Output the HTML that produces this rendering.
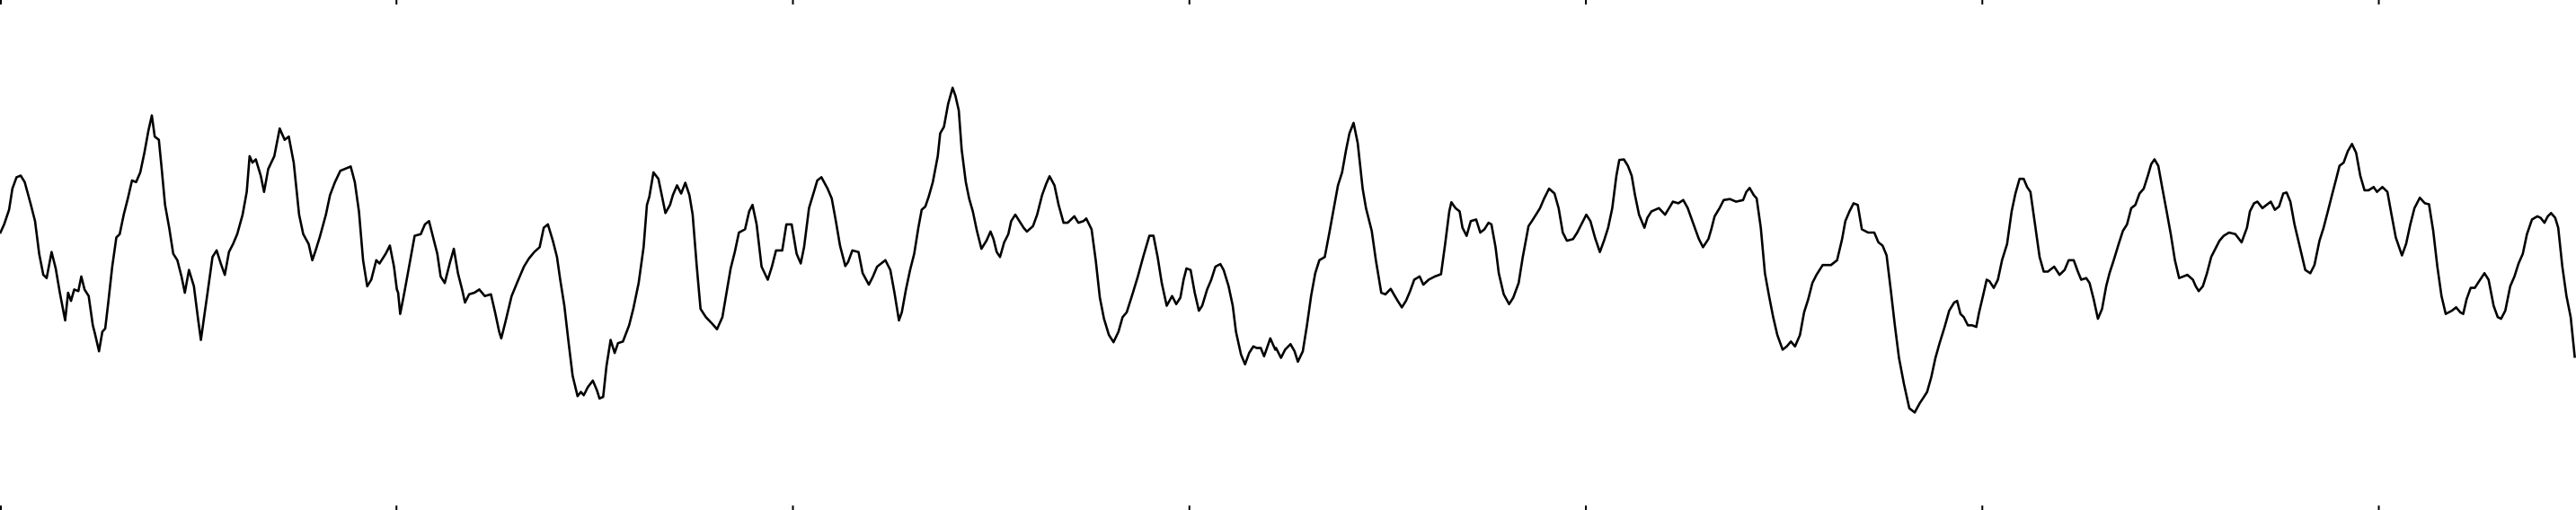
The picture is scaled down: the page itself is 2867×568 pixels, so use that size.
<!DOCTYPE html>
<html><head><meta charset="utf-8"><style>
html,body{margin:0;padding:0;background:#fff;}
svg{display:block;}
</style></head><body>
<svg id="chart" width="2867" height="568" viewBox="0 0 2867 568" xmlns="http://www.w3.org/2000/svg">
<g id="ticks"></g>
<path id="trace" fill="none" stroke="#000" stroke-width="2.6" stroke-linejoin="round"></path>
</svg>
<script>
// sample offsets of each recording segment, and per-segment sample-rate factor
const segStart = [0, 1546, 3093, 4661];
const segScale = [1, 1, 1, 1.0097];
// tick positions (samples)
const tickValues = [0, 961, 1922, 2883, 3844, 4805, 5766];
// [sample-in-segment, amplitude]
const seg1 = [[0,66],[10,94],[22,139],[30,204],[40,239],[50,244],[60,224],[75,154],[85,104],[95,4],[105,-61],[113,-71],[125,9],[135,-41],[145,-116],[158,-201],[165,-116],[172,-141],[180,-106],[190,-111],[197,-66],[205,-106],[215,-126],[225,-216],[230,-241],[240,-296],[248,-236],[255,-226],[262,-151],[272,-36],[282,54],[290,64],[300,124],[310,174],[320,229],[330,224],[340,254],[350,314],[360,384],[368,429],[375,364],[385,354],[392,264],[400,154],[410,84],[420,4],[430,-16],[440,-66],[448,-116],[458,-46],[470,-96],[480,-196],[487,-261],[493,-206],[503,-116],[515,-6],[525,14],[535,-26],[545,-61],[555,9],[565,34],[575,64],[588,124],[598,194],[605,304],[612,284],[620,294],[632,244],[640,194],[650,264],[665,304],[678,389],[690,354],[700,364],[712,284],[725,124],[735,64],[748,34],[757,-16],[765,14],[775,54],[790,124],[800,184],[812,224],[825,259],[850,272],[860,224],[870,134],[880,-16],[890,-96],[900,-76],[912,-16],[920,-26],[935,4],[945,29],[955,-36],[962,-106],[965,-116],[970,-181],[980,-116],[990,-46],[1005,59],[1020,64],[1030,94],[1040,104],[1052,44],[1060,4],[1068,-66],[1078,-86],[1090,-26],[1100,19],[1110,-56],[1120,-106],[1127,-146],[1137,-121],[1150,-116],[1162,-106],[1175,-126],[1190,-121],[1200,-176],[1210,-236],[1215,-256],[1225,-206],[1240,-126],[1255,-81],[1270,-36],[1282,-11],[1295,9],[1308,24],[1318,84],[1328,94],[1340,44],[1350,-6],[1358,-76],[1368,-156],[1378,-266],[1388,-371],[1400,-434],[1408,-421],[1415,-431],[1425,-406],[1437,-386],[1447,-416],[1453,-441],[1462,-436],[1470,-341],[1480,-261],[1490,-301],[1498,-271],[1510,-266],[1525,-216],[1535,-166],[1548,-86],[1560,24],[1568,154]];
const seg2 = [[28,179],[38,254],[50,234],[58,184],[67,129],[78,154],[85,184],[95,214],[105,189],[115,222],[125,184],[133,124],[143,-36],[152,-166],[165,-191],[180,-211],[192,-228],[205,-191],[215,-116],[225,-41],[235,9],[245,69],[260,79],[270,134],[278,154],[288,94],[300,-36],[315,-76],[325,-36],[335,14],[350,14],[360,94],[373,94],[385,4],[395,-26],[403,24],[415,144],[428,199],[435,229],[445,239],[460,204],[470,174],[480,104],[490,29],[503,-34],[510,-21],[520,14],[535,9],[545,-56],[560,-91],[570,-66],[580,-36],[590,-26],[600,-16],[612,-46],[622,-116],[633,-201],[640,-176],[650,-106],[660,-46],[670,4],[680,84],[688,139],[697,149],[705,179],[715,224],[727,304],[733,374],[742,394],[752,464],[763,514],[770,489],[778,444],[785,324],[795,224],[803,174],[812,134],[822,74],[833,19],[845,44],[855,72],[862,49],[870,9],[878,-6],[888,39],[898,64],[905,104],[915,124],[925,104],[935,84],[943,72],[958,89],[968,124],[980,184],[990,219],[998,242],[1010,214],[1020,154],[1032,99],[1042,99],[1058,119],[1068,99],[1080,104],[1087,112],[1100,79],[1110,-16],[1120,-131],[1130,-196],[1142,-246],[1153,-268],[1165,-236],[1175,-191],[1185,-176],[1200,-116],[1212,-66],[1225,-6],[1240,59],[1250,59],[1260,-6],[1270,-86],[1282,-156],[1295,-126],[1305,-151],[1315,-131],[1323,-76],[1330,-41],[1340,-46],[1350,-116],[1360,-171],[1368,-156],[1380,-106],[1390,-76],[1400,-36],[1412,-28],[1420,-46],[1432,-96],[1442,-156],[1450,-236],[1462,-306],[1472,-336],[1482,-301],[1492,-281],[1500,-286],[1510,-286],[1518,-311],[1525,-286],[1533,-256],[1545,-291]];
const seg3 = [[0,-286],[12,-316],[22,-291],[35,-274],[45,-296],[53,-328],[65,-296],[75,-216],[85,-126],[95,-56],[105,-16],[118,-6],[130,74],[140,144],[150,214],[160,254],[170,324],[178,374],[188,406],[198,344],[210,204],[218,144],[232,74],[242,-16],[255,-116],[265,-121],[278,-104],[288,-126],[295,-141],[305,-161],[315,-141],[325,-111],[335,-76],[348,-66],[357,-91],[370,-76],[385,-66],[400,-59],[410,34],[420,134],[425,162],[435,144],[445,134],[452,84],[462,59],[472,104],[485,109],[495,69],[505,79],[515,99],[522,94],[532,24],[540,-56],[552,-121],[565,-151],[575,-131],[588,-86],[598,-6],[612,89],[620,104],[630,124],[640,144],[650,174],[662,204],[675,189],[685,144],[695,69],[705,44],[720,49],[730,69],[740,94],[752,124],[762,104],[773,54],[785,9],[795,44],[805,84],[815,144],[825,244],[832,292],[843,294],[853,274],[862,244],[870,184],[880,124],[893,84],[900,114],[910,134],[928,144],[943,124],[955,149],[962,164],[975,159],[987,169],[998,144],[1015,84],[1025,49],[1035,24],[1048,49],[1055,79],[1063,119],[1075,144],[1085,169],[1100,172],[1115,164],[1132,169],[1140,194],[1148,206],[1158,184],[1165,174],[1175,84],[1185,-56],[1195,-126],[1205,-191],[1215,-246],[1228,-291],[1238,-281],[1248,-266],[1258,-281],[1270,-246],[1280,-176],[1290,-136],[1300,-86],[1310,-61],[1325,-31],[1345,-31],[1360,-16],[1372,49],[1380,104],[1390,134],[1400,159],[1410,154],[1420,79],[1435,69],[1450,69],[1460,39],[1470,29],[1480,-1],[1490,-106],[1500,-216],[1510,-316],[1522,-396],[1535,-471],[1548,-484],[1560,-456]];
const seg4 = [[0,-441],[10,-421],[20,-376],[30,-316],[40,-271],[52,-221],[63,-171],[75,-146],[82,-141],[90,-181],[98,-191],[108,-216],[118,-216],[128,-221],[135,-176],[145,-121],[153,-76],[160,-81],[170,-101],[180,-76],[190,-16],[202,34],[213,134],[222,189],[232,234],[242,234],[250,209],[258,194],[268,104],[280,-6],[290,-51],[300,-51],[315,-36],[328,-61],[340,-46],[350,-16],[362,-16],[372,-51],[380,-76],[392,-71],[400,-86],[410,-136],[420,-196],[430,-166],[440,-96],[448,-56],[458,-16],[470,34],[480,74],[490,94],[500,144],[510,154],[520,189],[530,204],[540,244],[548,279],[556,294],[565,274],[575,204],[585,134],[595,64],[605,-16],[615,-71],[625,-66],[635,-61],[648,-76],[655,-96],[662,-111],[672,-96],[682,-56],[692,-6],[700,14],[712,44],[722,59],[735,69],[750,64],[765,39],[778,84],[785,134],[795,159],[803,164],[815,144],[825,154],[835,164],[845,139],[855,149],[865,189],[873,192],[882,164],[892,94],[905,24],[918,-46],[930,-56],[940,-31],[952,44],[962,84],[972,134],[982,184],[992,234],[1000,274],[1010,284],[1020,319],[1030,341],[1040,314],[1050,244],[1060,199],[1070,199],[1082,209],[1090,194],[1103,209],[1115,194],[1125,124],[1135,54],[1150,-1],[1160,34],[1170,94],[1180,144],[1193,176],[1205,159],[1215,156],[1225,74],[1235,-36],[1245,-126],[1255,-181],[1270,-171],[1280,-161],[1290,-176],[1297,-181],[1305,-136],[1315,-101],[1325,-101],[1335,-81],[1348,-56],[1358,-76],[1370,-156],[1380,-191],[1388,-196],[1398,-171],[1410,-96],[1420,-66],[1430,-26],[1440,4],[1450,64],[1462,109],[1475,119],[1483,114],[1492,99],[1500,119],[1508,129],[1518,114],[1525,84],[1535,-36],[1545,-126],[1555,-191],[1565,-316]];

const W = 2867, H = 568;
const xDomain = [0, 6244];
const yMid = 284, yPerUnit = 1 / 2.76;
function xScale(t) { return (t - xDomain[0]) / (xDomain[1] - xDomain[0]) * W; }
function yScale(v) { return yMid - v * yPerUnit; }

const segments = [seg1, seg2, seg3, seg4];
let d = '';
segments.forEach((seg, k) => {
  seg.forEach((p, i) => {
    const t = segStart[k] + p[0] * segScale[k];
    d += (d === '' ? 'M' : 'L') + xScale(t).toFixed(1) + ',' + yScale(p[1]).toFixed(1);
  });
});
document.getElementById('trace').setAttribute('d', d);

const tg = document.getElementById('ticks');
tickValues.forEach(v => {
  const x = Math.max(1, xScale(v));
  [[0, 5], [H - 5, H]].forEach((yy, j) => {
    const ln = document.createElementNS('http://www.w3.org/2000/svg', 'line');
    ln.setAttribute('x1', x); ln.setAttribute('x2', x);
    ln.setAttribute('y1', yy[0]); ln.setAttribute('y2', yy[1]);
    ln.setAttribute('stroke', '#000'); ln.setAttribute('stroke-width', '2');
    
    
    tg.appendChild(ln);
  });
});
</script>
</body></html>
